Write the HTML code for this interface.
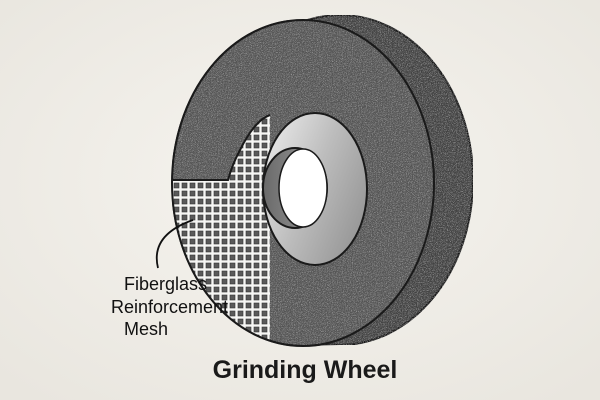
<!DOCTYPE html>
<html><head><meta charset="utf-8"><style>
html,body{margin:0;padding:0;background:#f0eee8;}
svg{display:block}
</style></head><body>
<svg width="600" height="400" viewBox="0 0 600 400" xmlns="http://www.w3.org/2000/svg">
<defs>
<radialGradient id="bg" cx="50%" cy="45%" r="70%"><stop offset="0" stop-color="#f6f4ef"/><stop offset="1" stop-color="#e9e6df"/></radialGradient>
<filter id="noise" x="0" y="0" width="100%" height="100%">
<feTurbulence type="fractalNoise" baseFrequency="1.2" numOctaves="2" seed="3" result="n"/>
<feColorMatrix type="saturate" values="0" in="n" result="g"/>
<feComponentTransfer in="g" result="g2"><feFuncA type="linear" slope="0" intercept="0.6"/></feComponentTransfer>
<feComposite in="g2" in2="SourceGraphic" operator="in" result="c"/>
<feBlend in="SourceGraphic" in2="c" mode="overlay"/>
</filter>
<pattern id="mesh" width="8" height="8" patternUnits="userSpaceOnUse" x="172" y="181">
<rect width="8" height="8" fill="#f6f6f4"/><rect x="2" y="2" width="5" height="5" fill="#5a5a5a" stroke="#333" stroke-width="0.6"/>
</pattern>
<linearGradient id="ring" x1="0" y1="0" x2="1" y2="0.6"><stop offset="0" stop-color="#f0f0f0"/><stop offset="0.55" stop-color="#bdbdbd"/><stop offset="1" stop-color="#9a9a9a"/></linearGradient>
<linearGradient id="bore" x1="0" y1="0" x2="1" y2="0"><stop offset="0" stop-color="#6a6a6a"/><stop offset="1" stop-color="#a0a0a0"/></linearGradient>
<clipPath id="face"><ellipse cx="303" cy="183" rx="131" ry="163"/></clipPath>
</defs>
<rect width="600" height="400" fill="url(#bg)"/>
<path d="M303 20 L340 15 A133 165 0 0 1 340 345 L303 346 Z" fill="#444"/>
<ellipse cx="340" cy="180" rx="133" ry="165" fill="#474747" stroke="#1a1a1a" stroke-width="2" filter="url(#noise)"/>
<ellipse cx="303" cy="183" rx="131" ry="163" fill="#5a5a5a" stroke="#1a1a1a" stroke-width="2" filter="url(#noise)"/>
<path d="M100 180 L228 180 Q232 165 240 150 Q255 120 270 115 L270 360 L100 360 Z" fill="url(#mesh)" clip-path="url(#face)"/>
<path d="M172 180 L228 180 Q232 165 240 150 Q255 120 270 115" fill="none" stroke="#1a1a1a" stroke-width="2"/>
<ellipse cx="303" cy="183" rx="131" ry="163" fill="none" stroke="#1a1a1a" stroke-width="2"/>
<ellipse cx="315" cy="189" rx="52" ry="76" fill="url(#ring)" stroke="#1a1a1a" stroke-width="2"/>
<ellipse cx="295" cy="188" rx="32" ry="40" fill="url(#bore)" stroke="#1a1a1a" stroke-width="2"/>
<ellipse cx="303" cy="188" rx="24" ry="39" fill="#ffffff" stroke="#1a1a1a" stroke-width="1.5"/>
<path d="M158 268 Q150 235 193 220" fill="none" stroke="#111" stroke-width="1.8"/>
<g font-family="Liberation Sans, sans-serif" fill="#111">
<text x="124" y="290" font-size="18">Fiberglass</text>
<text x="111" y="313" font-size="18">Reinforcement</text>
<text x="124" y="335" font-size="18">Mesh</text>
<text x="305" y="378" font-size="25" font-weight="bold" text-anchor="middle" fill="#1a1a1a">Grinding Wheel</text>
</g>
</svg>
</body></html>
